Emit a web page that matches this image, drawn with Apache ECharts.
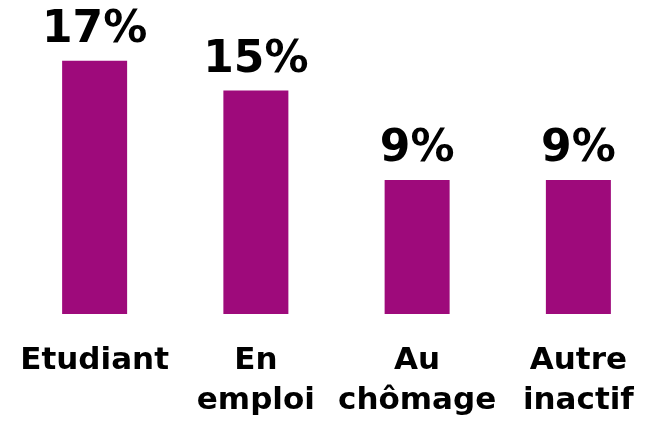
<!DOCTYPE html>
<html>
<head>
<meta charset="utf-8">
<script src="https://cdn.jsdelivr.net/npm/echarts@6/dist/echarts.min.js"></script>
<style>
  html, body { margin: 0; padding: 0; background: #fff; overflow: hidden; }
  /* the last band runs past the right edge in the original, so the
     chart is a little wider than the window and gets clipped */
  #chart { width: 659px; height: 424px; }
</style>
</head>
<body>
<div id="chart"></div>
<script>
// categories and shares (%)
const categories = ['Etudiant', 'En\nemploi', 'Au\nchômage', 'Autre\ninactif'];
const shares = [17, 15, 9, 9];

const chart = echarts.init(document.getElementById('chart'), null, { renderer: 'canvas' });
chart.setOption({
  animation: false,
  backgroundColor: '#fff',
  grid: { left: 14, right: 0, top: 16, bottom: 110, containLabel: false },
  xAxis: {
    type: 'category',
    data: categories,
    axisLine: { show: false },
    axisTick: { show: false },
    axisLabel: {
      interval: 0,
      margin: 27,
      verticalAlign: 'top',
      color: '#000',
      fontFamily: 'DejaVu Sans',
      fontWeight: 'bold',
      fontSize: 31,
      lineHeight: 40
    }
  },
  yAxis: {
    type: 'value',
    min: 0,
    max: 20,
    show: false
  },
  series: [{
    type: 'bar',
    data: shares,
    barWidth: 65,
    itemStyle: { color: '#9e0a7b' },
    label: {
      show: true,
      position: 'top',
      distance: 8,
      formatter: '{c}%',
      color: '#000',
      fontFamily: 'DejaVu Sans',
      fontWeight: 'bold',
      fontSize: 44
    }
  }]
});
</script>
</body>
</html>
